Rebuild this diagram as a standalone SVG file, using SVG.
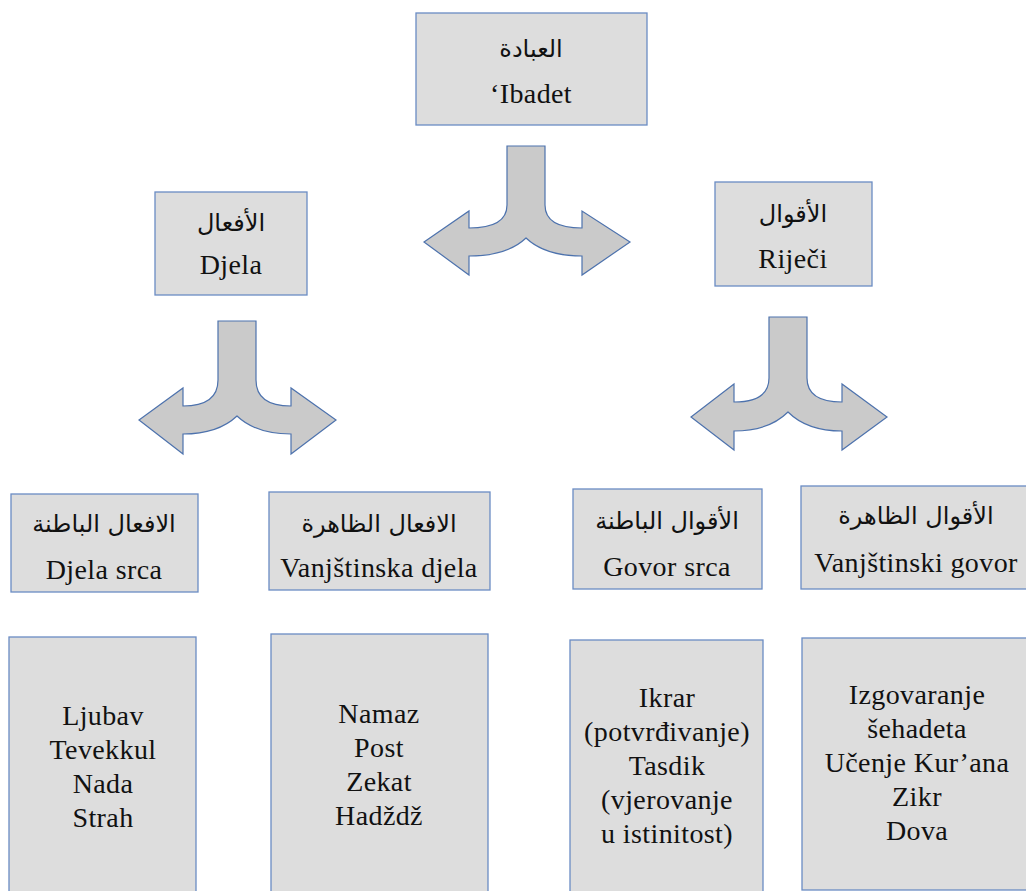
<svg xmlns="http://www.w3.org/2000/svg" width="1026" height="891" viewBox="0 0 1026 891">
<style>
.box{fill:#dddddd;stroke:#6a8cc4;stroke-width:1.3}
.arr{fill:#cacaca;stroke:#4d72ad;stroke-width:1.2;stroke-linejoin:miter}
.lat{font-family:"Liberation Serif","DejaVu Serif",serif;font-size:28px;fill:#111;text-anchor:middle;letter-spacing:0.4px}
.ar{font-family:"DejaVu Sans",sans-serif;font-size:24px;fill:#111;text-anchor:middle}
</style>
<rect width="1026" height="891" fill="#ffffff"/>
<g id="connectors">
<path class="arr" d="M507,146 H545 V205 Q545,228 582,228 V211 L630,242 L582,275 V256 Q545,256 526,238 Q507,256 469,256 V275 L424,242 L469,211 V228 Q507,228 507,205 Z"/>
<path class="arr" d="M218,321 H256 V380 Q256,406 291,406 V388 L336,420 L291,454 V434 Q256,434 237,416 Q218,434 183,434 V454 L139,420 L183,388 V406 Q218,406 218,380 Z"/>
<path class="arr" d="M769,317 H807 V378 Q807,402 842,402 V384 L887,417 L842,450 V431 Q807,431 788,412 Q769,431 734,431 V450 L691,417 L734,384 V402 Q769,402 769,378 Z"/>
</g>
<g id="ibadet">
<rect class="box" x="416" y="13" width="231" height="112"/>
<text class="ar" x="531" y="57">العبادة</text>
<text class="lat" x="531" y="103">‘Ibadet</text>
</g>
<g id="djela">
<rect class="box" x="155" y="192" width="152" height="103"/>
<text class="ar" x="231" y="231">الأفعال</text>
<text class="lat" x="231" y="274">Djela</text>
</g>
<g id="rijeci">
<rect class="box" x="715" y="182" width="157" height="104"/>
<text class="ar" x="793" y="222">الأقوال</text>
<text class="lat" x="793" y="268">Riječi</text>
</g>
<g id="djela-srca">
<rect class="box" x="11" y="494" width="187" height="98"/>
<text class="ar" x="104" y="532">الافعال الباطنة</text>
<text class="lat" x="104" y="579">Djela srca</text>
</g>
<g id="vanjstinska-djela">
<rect class="box" x="269" y="492" width="221" height="98"/>
<text class="ar" x="379" y="532">الافعال الظاهرة</text>
<text class="lat" x="379" y="577">Vanjštinska djela</text>
</g>
<g id="govor-srca">
<rect class="box" x="573" y="489" width="189" height="100"/>
<text class="ar" x="667" y="529">الأقوال الباطنة</text>
<text class="lat" x="667" y="576">Govor srca</text>
</g>
<g id="vanjstinski-govor">
<rect class="box" x="801" y="486" width="232" height="103"/>
<text class="ar" x="916" y="524">الأقوال الظاهرة</text>
<text class="lat" x="916" y="572">Vanjštinski govor</text>
</g>
<g id="list-djela-srca">
<rect class="box" x="9" y="637" width="187" height="260"/>
<text class="lat" x="103" y="725">Ljubav</text>
<text class="lat" x="103" y="759">Tevekkul</text>
<text class="lat" x="103" y="793">Nada</text>
<text class="lat" x="103" y="827">Strah</text>
</g>
<g id="list-vanjstinska-djela">
<rect class="box" x="271" y="634" width="217" height="263"/>
<text class="lat" x="379" y="723">Namaz</text>
<text class="lat" x="379" y="757">Post</text>
<text class="lat" x="379" y="791">Zekat</text>
<text class="lat" x="379" y="825">Hadždž</text>
</g>
<g id="list-govor-srca">
<rect class="box" x="570" y="640" width="193" height="257"/>
<text class="lat" x="667" y="707">Ikrar</text>
<text class="lat" x="667" y="741">(potvrđivanje)</text>
<text class="lat" x="667" y="775">Tasdik</text>
<text class="lat" x="667" y="809">(vjerovanje</text>
<text class="lat" x="667" y="843">u istinitost)</text>
</g>
<g id="list-vanjstinski-govor">
<rect class="box" x="802" y="638" width="231" height="252"/>
<text class="lat" x="917" y="704">Izgovaranje</text>
<text class="lat" x="917" y="738">šehadeta</text>
<text class="lat" x="917" y="772">Učenje Kur’ana</text>
<text class="lat" x="917" y="806">Zikr</text>
<text class="lat" x="917" y="840">Dova</text>
</g>
</svg>
